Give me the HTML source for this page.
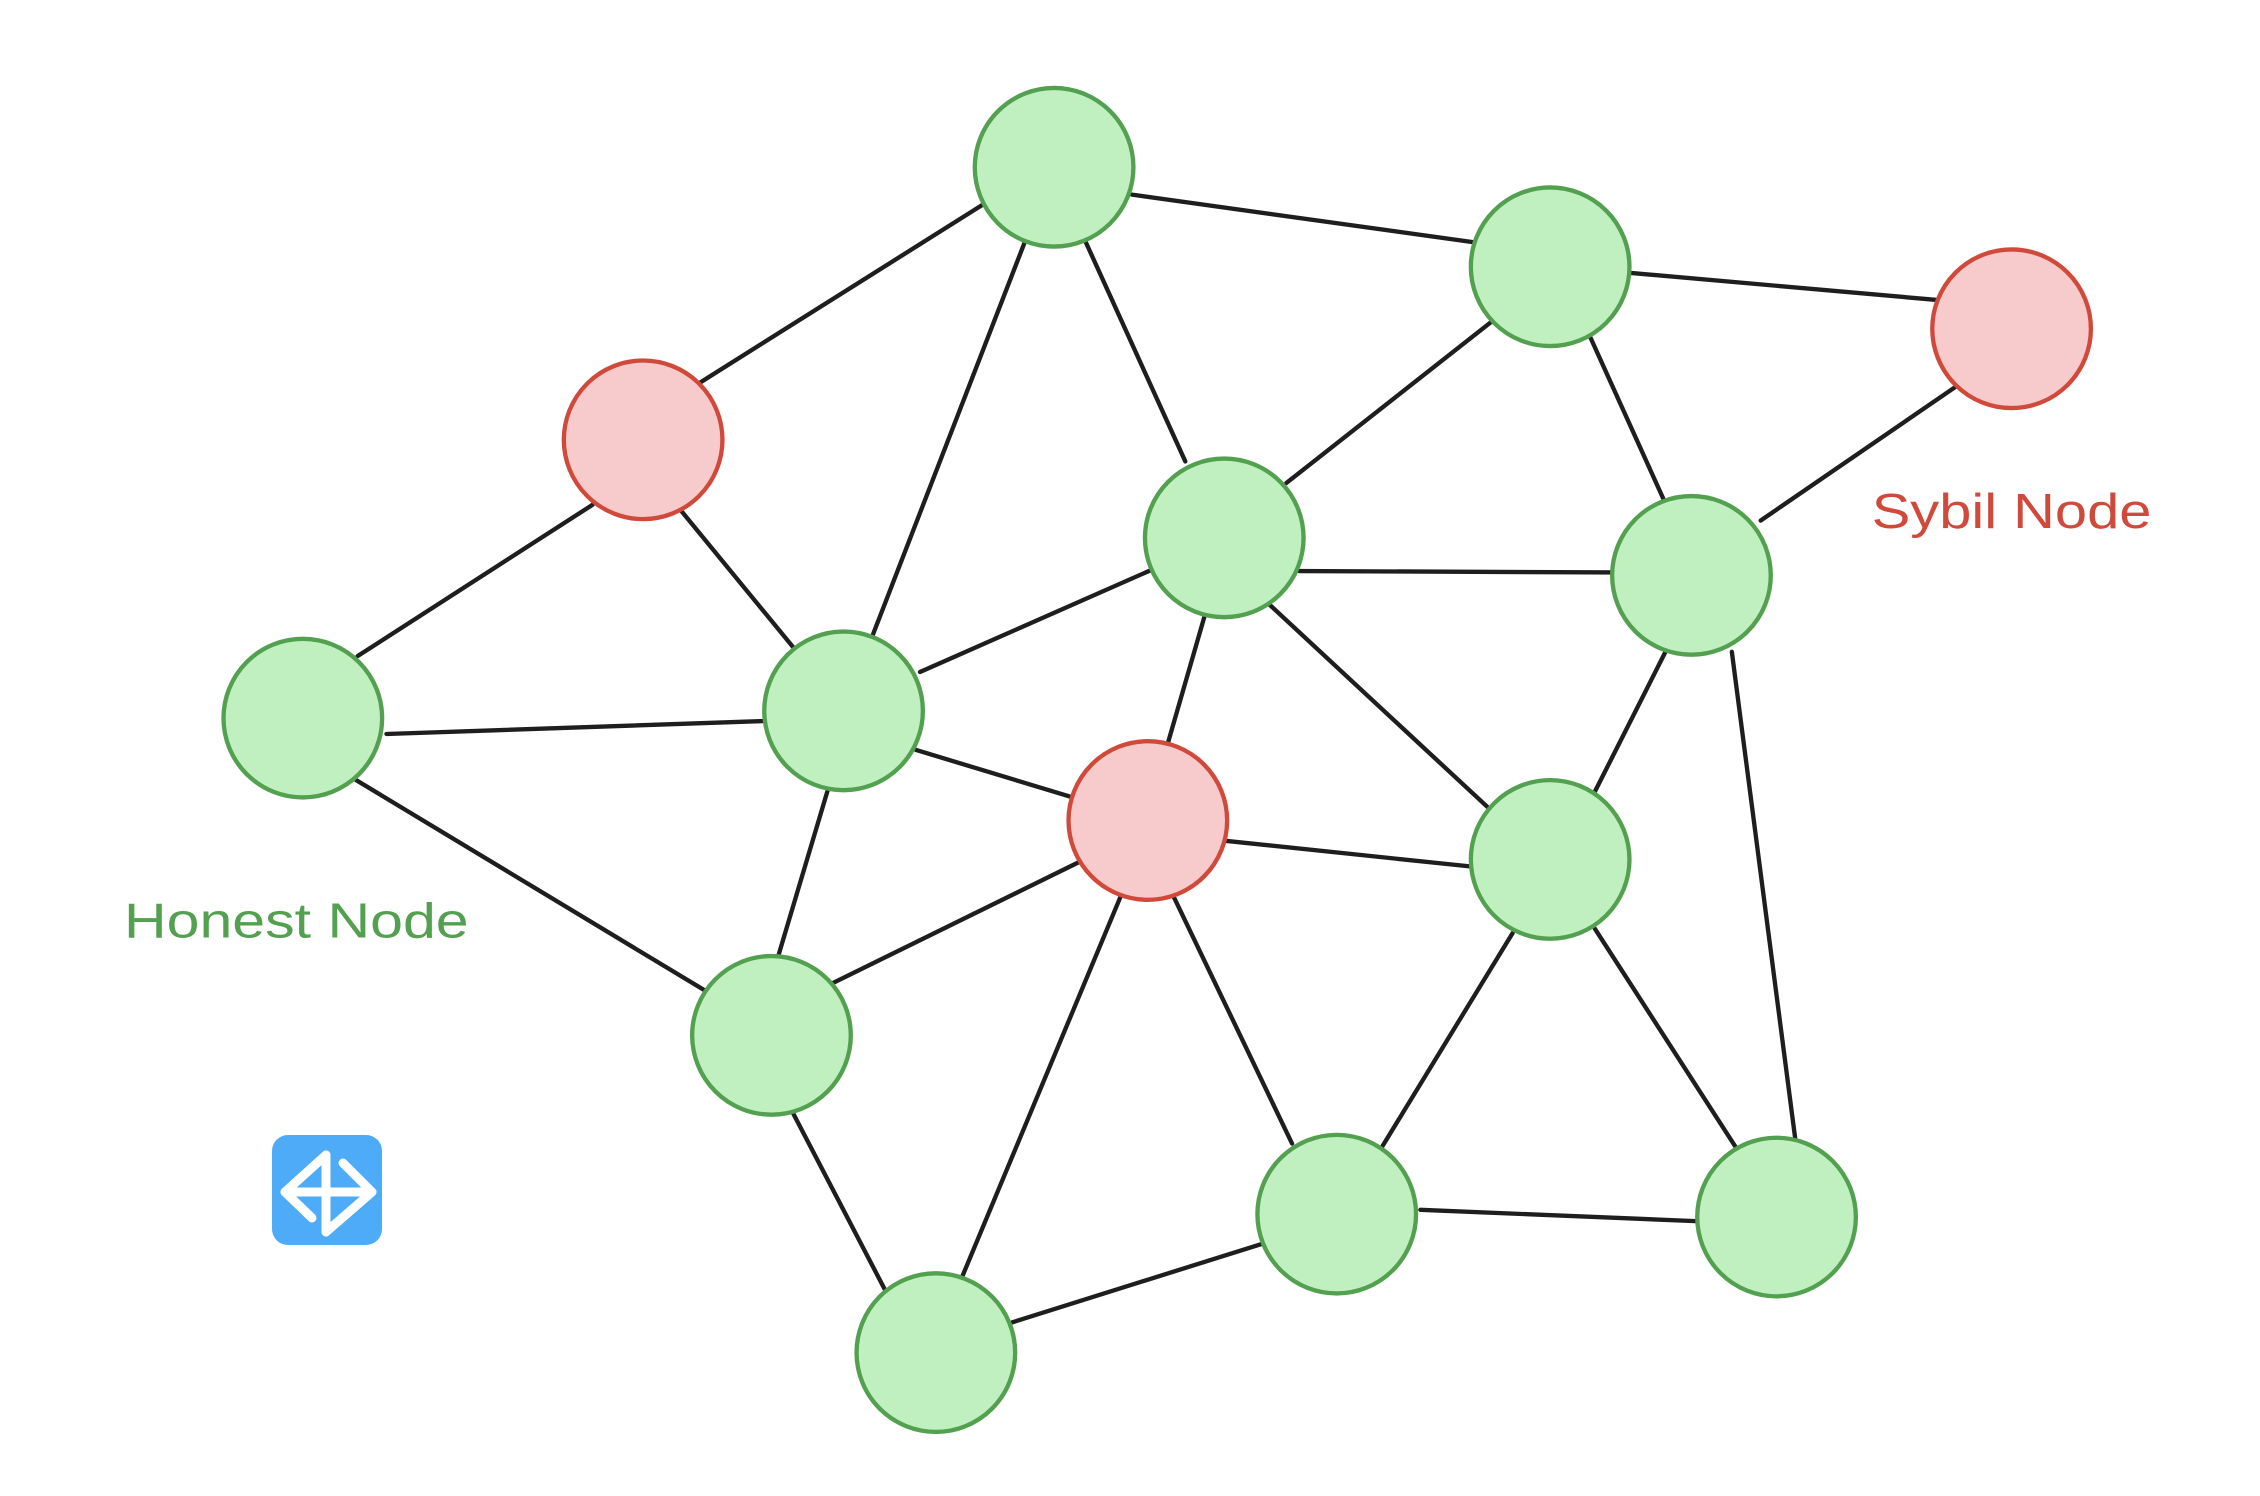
<!DOCTYPE html>
<html><head><meta charset="utf-8"><style>
html,body{margin:0;padding:0;background:#fff;}
svg{display:block;}
</style></head><body>
<svg width="2260" height="1496" viewBox="0 0 2260 1496" xmlns="http://www.w3.org/2000/svg">
<rect width="2260" height="1496" fill="#fff"/>
<g transform="scale(1.442)">
<g stroke="#1e1e1e" stroke-width="3" stroke-linecap="round">
<line x1="785" y1="135" x2="1022" y2="168"/>
<line x1="1128" y1="189" x2="1343" y2="208"/>
<line x1="683" y1="141" x2="486" y2="265"/>
<line x1="711" y1="167" x2="605" y2="441"/>
<line x1="753" y1="168" x2="822" y2="320"/>
<line x1="1037" y1="221" x2="892" y2="335"/>
<line x1="1102" y1="232" x2="1154" y2="347"/>
<line x1="1358" y1="267" x2="1221" y2="361"/>
<line x1="411" y1="350" x2="248" y2="455"/>
<line x1="473" y1="355" x2="551" y2="450"/>
<line x1="901" y1="396" x2="1123" y2="397"/>
<line x1="799" y1="395" x2="638" y2="466"/>
<line x1="268" y1="509" x2="531" y2="500"/>
<line x1="836" y1="425" x2="810" y2="515"/>
<line x1="879" y1="418" x2="1033" y2="561"/>
<line x1="1155" y1="452" x2="1106" y2="549"/>
<line x1="1201" y1="452" x2="1245" y2="790"/>
<line x1="635" y1="520" x2="744" y2="553"/>
<line x1="849" y1="583" x2="1021" y2="601"/>
<line x1="574" y1="548" x2="540" y2="662"/>
<line x1="247" y1="541" x2="489" y2="687"/>
<line x1="750" y1="597" x2="577" y2="682"/>
<line x1="777" y1="622" x2="667" y2="886"/>
<line x1="814" y1="622" x2="896" y2="793"/>
<line x1="1049" y1="647" x2="958" y2="796"/>
<line x1="1106" y1="644" x2="1204" y2="796"/>
<line x1="985" y1="839" x2="1180" y2="847"/>
<line x1="550" y1="772" x2="614" y2="895"/>
<line x1="702" y1="917" x2="877" y2="862"/>
</g>
<g stroke-width="3">
<g fill="#c0f0c0" stroke="#52a050">
<circle cx="731" cy="116" r="55"/>
<circle cx="1075" cy="185" r="55"/>
<circle cx="849" cy="373" r="55"/>
<circle cx="1173" cy="399" r="55"/>
<circle cx="210" cy="498" r="55"/>
<circle cx="585" cy="493" r="55"/>
<circle cx="1075" cy="596" r="55"/>
<circle cx="535" cy="718" r="55"/>
<circle cx="927" cy="842" r="55"/>
<circle cx="1232" cy="844" r="55"/>
<circle cx="649" cy="938" r="55"/>
</g>
<g fill="#f7cbcb" stroke="#d04a3c">
<circle cx="1395" cy="228" r="55"/>
<circle cx="446" cy="305" r="55"/>
<circle cx="796" cy="569" r="55"/>
</g>
</g>
<text x="1298" y="366" font-family="Liberation Sans, sans-serif" font-size="34" fill="#d04a3c" textLength="194" lengthAdjust="spacingAndGlyphs">Sybil Node</text>
<text x="86" y="650" font-family="Liberation Sans, sans-serif" font-size="34" fill="#52a050" textLength="239" lengthAdjust="spacingAndGlyphs">Honest Node</text>
</g>
<rect x="272" y="1135" width="110" height="110" rx="16" fill="#4dabf7"/>
<g stroke="#fff" stroke-width="9" stroke-linecap="round" stroke-linejoin="round" fill="none">
<line x1="326" y1="1155" x2="326" y2="1232"/>
<polyline points="326,1155 285,1192 312,1218"/>
<line x1="285" y1="1192" x2="372" y2="1192"/>
<polyline points="343,1163 372,1192 326,1232"/>
</g>
</svg>
</body></html>
